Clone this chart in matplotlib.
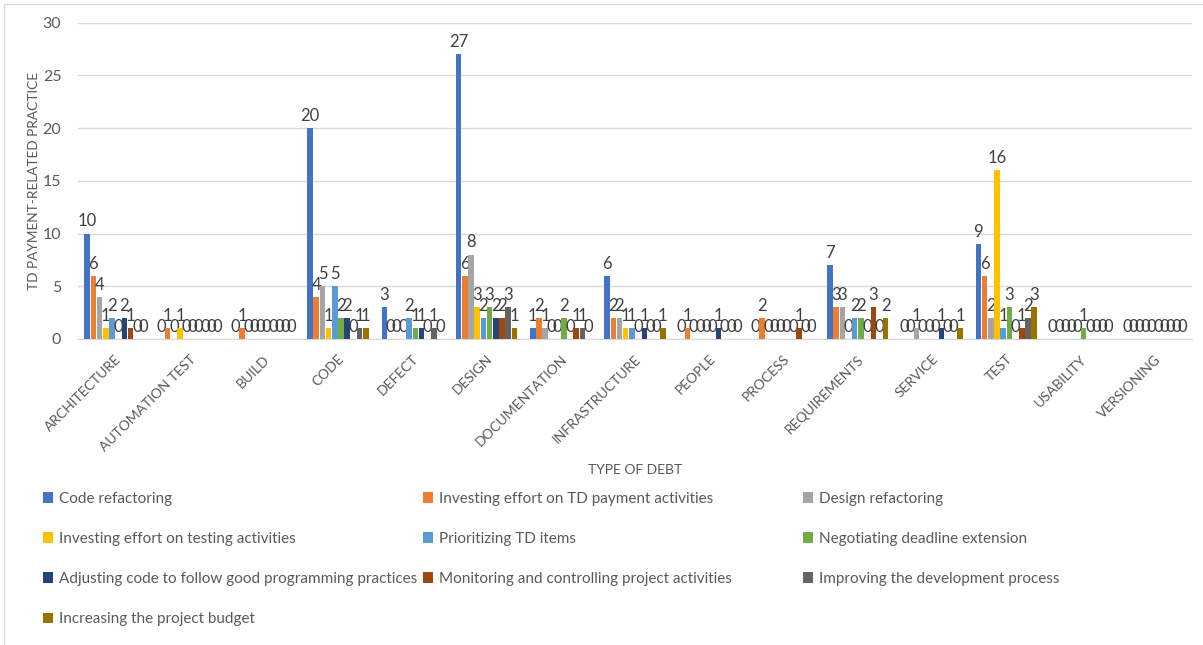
import matplotlib
matplotlib.use("Agg")
import matplotlib.pyplot as plt
from matplotlib.patches import Patch, Rectangle
import numpy as np

plt.rcParams['font.family'] = ['Lato', 'DejaVu Sans']

categories = ["ARCHITECTURE", "AUTOMATION TEST", "BUILD", "CODE", "DEFECT", "DESIGN",
              "DOCUMENTATION", "INFRASTRUCTURE", "PEOPLE", "PROCESS", "REQUIREMENTS",
              "SERVICE", "TEST", "USABILITY", "VERSIONING"]

series_names = [
    "Code refactoring",
    "Investing effort on TD payment activities",
    "Design refactoring",
    "Investing effort on testing activities",
    "Prioritizing TD items",
    "Negotiating deadline extension",
    "Adjusting code to follow good programming practices",
    "Monitoring and controlling project activities",
    "Improving the development process",
    "Increasing the project budget",
]

code_refactoring       = [10, 0, 0, 20, 3, 27, 1, 6, 0, 0, 7, 0, 9, 0, 0]
investing_td_payment   = [6, 1, 1, 4, 0, 6, 2, 2, 1, 2, 3, 0, 6, 0, 0]
design_refactoring     = [4, 0, 0, 5, 0, 8, 1, 2, 0, 0, 3, 1, 2, 0, 0]
investing_testing      = [1, 1, 0, 1, 0, 3, 0, 1, 0, 0, 0, 0, 16, 0, 0]
prioritizing_td        = [2, 0, 0, 5, 2, 2, 0, 1, 0, 0, 2, 0, 1, 0, 0]
negotiating_deadline   = [0, 0, 0, 2, 1, 3, 2, 0, 0, 0, 2, 0, 3, 1, 0]
adjusting_code         = [2, 0, 0, 2, 1, 2, 0, 1, 1, 0, 0, 1, 0, 0, 0]
monitoring_controlling = [1, 0, 0, 0, 0, 2, 1, 0, 0, 1, 3, 0, 1, 0, 0]
improving_process      = [0, 0, 0, 1, 1, 3, 1, 0, 0, 0, 0, 0, 2, 0, 0]
increasing_budget      = [0, 0, 0, 1, 0, 1, 0, 1, 0, 0, 2, 1, 3, 0, 0]

series_values = [code_refactoring, investing_td_payment, design_refactoring,
                 investing_testing, prioritizing_td, negotiating_deadline,
                 adjusting_code, monitoring_controlling, improving_process,
                 increasing_budget]

colors = ["#4472C4", "#ED7D31", "#A5A5A5", "#FFC000", "#5B9BD5",
          "#70AD47", "#264478", "#9E480E", "#636363", "#997300"]

W, H = 1203, 645
fig = plt.figure(figsize=(W / 100, H / 100), dpi=100)
ax = fig.add_axes([78 / W, 1 - 339 / H, (1192 - 78) / W, (339 - 22.7) / H])

x = np.arange(len(categories))
n = len(series_values)
step = 0.0835
bar_w = 0.074
label_color = "#404040"
for j, (vals, col) in enumerate(zip(series_values, colors)):
    pos = x + (j - (n - 1) / 2) * step
    bars = ax.bar(pos, vals, width=bar_w, color=col, zorder=3)
    for b, v in zip(bars, vals):
        ax.annotate(str(v), (b.get_x() + b.get_width() / 2, v),
                    xytext=(0, 3), textcoords="offset points",
                    ha="center", va="bottom", fontsize=12, color=label_color)

ax.set_xlim(-0.5, len(categories) - 0.5)
ax.set_ylim(0, 30)
ax.set_yticks(range(0, 31, 5))
ax.yaxis.grid(True, color="#D9D9D9", linewidth=1, zorder=0)
ax.set_axisbelow(True)
for s in ["top", "right", "left"]:
    ax.spines[s].set_visible(False)
ax.spines["bottom"].set_color("#D9D9D9")
ax.tick_params(axis="both", length=0, colors="#595959")
ax.tick_params(axis="y", pad=12, labelsize=11.5)
ax.set_xticks(x)
ax.set_xticklabels(categories, rotation=45, ha="right", rotation_mode="anchor",
                   fontsize=10)
ax.tick_params(axis="x", pad=10)

ax.set_ylabel("TD PAYMENT-RELATED PRACTICE", fontsize=9.8, color="#595959")
ax.yaxis.set_label_coords((40 - 78) / (1192 - 78), (339 - 181) / (339 - 22.7))
fig.text(635 / W, 1 - 470 / H, "TYPE OF DEBT", ha="center", va="center",
         fontsize=10, color="#595959")

# Legend laid out row by row in three fixed-width columns
col_x = [38 / W, 418 / W, 798 / W]
for c in range(3):
    idx = list(range(c, n, 3))
    handles = [Patch(facecolor=colors[i], edgecolor="none") for i in idx]
    labels = [series_names[i] for i in idx]
    fig.legend(handles, labels, loc="upper left",
               bbox_to_anchor=(col_x[c], 1 - 487 / H), frameon=False,
               fontsize=11, labelcolor="#595959", handlelength=0.7,
               handleheight=0.7, handletextpad=0.4, labelspacing=1.72,
               borderaxespad=0, borderpad=0.3)

# Chart area border
fig.patches.append(Rectangle((4 / W, -0.01), 1.1, 1 - 4 / H + 0.01,
                             transform=fig.transFigure, fill=False,
                             edgecolor="#D9D9D9", linewidth=1))

fig.savefig("out.png", dpi=100)
